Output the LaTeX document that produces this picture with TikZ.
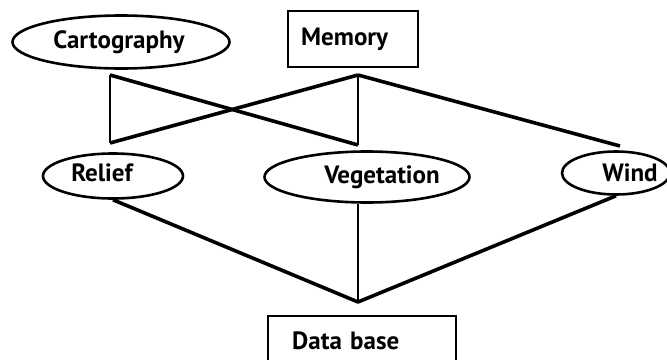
\documentclass[tikz,border=0pt]{standalone}
\usepackage{fontspec}
\setmainfont{PT Sans}
\usetikzlibrary{shapes.geometric}

\begin{document}
\begin{tikzpicture}[x=1pt, y=-1pt,
    font=\fontsize{25}{28}\selectfont\bfseries,
    oval/.style={draw, ellipse, line width=2.6pt, inner sep=0pt},
    box/.style={draw, rectangle, line width=2.4pt, align=left, anchor=north west, inner ysep=0pt},
    link/.style={line width=3.6pt, line join=round},
    stem/.style={line width=2.4pt}]
    \useasboundingbox (0,0) rectangle (667,359);
    \clip (0,0) rectangle (667,359);
    % boxes and ovals
    \node[box, text width=104pt, inner xsep=13pt, minimum height=56pt] (mem) at (287,10) {Memory};
    \node[box, text width=140pt, inner xsep=24pt, minimum height=50pt] (db) at (267,315) {Data base};
    \node[oval, minimum width=217pt, minimum height=53pt] (carto) at (121,42) {\makebox[0pt]{\hspace*{-4pt}Cartography}};
    \node[oval, minimum width=140pt, minimum height=45pt] (relief) at (113,176) {\raisebox{6pt}{\makebox[0pt]{\hspace*{-22pt}Relief}}};
    \node[oval, minimum width=205pt, minimum height=51pt] (veg) at (367,177) {\makebox[0pt]{\hspace*{30pt}Vegetation}};
    \node[oval, minimum width=108pt, minimum height=43pt] (wind) at (616,173) {\makebox[0pt]{\hspace*{28pt}Wind}};
    % corner points
    \coordinate (mtop) at (358,75);
    \coordinate (btl) at (110,75);
    \coordinate (bbl) at (110,143);
    \coordinate (bbr) at (358,145);
    \coordinate (wtop) at (620,146);
    \coordinate (dtop) at (358,302);
    % connectors
    \draw[link] (bbr) -- (btl);
    \draw[link] (mtop) -- (bbl);
    \draw[stem] (btl) -- (bbl);
    \draw[stem] (mtop) -- (bbr);
    \draw[link] (mtop) -- (wtop);
    \draw[link] (relief.south) -- (dtop) -- (wind.south);
    \draw[stem] (veg.south -| dtop) -- (dtop);
\end{tikzpicture}
\end{document}
